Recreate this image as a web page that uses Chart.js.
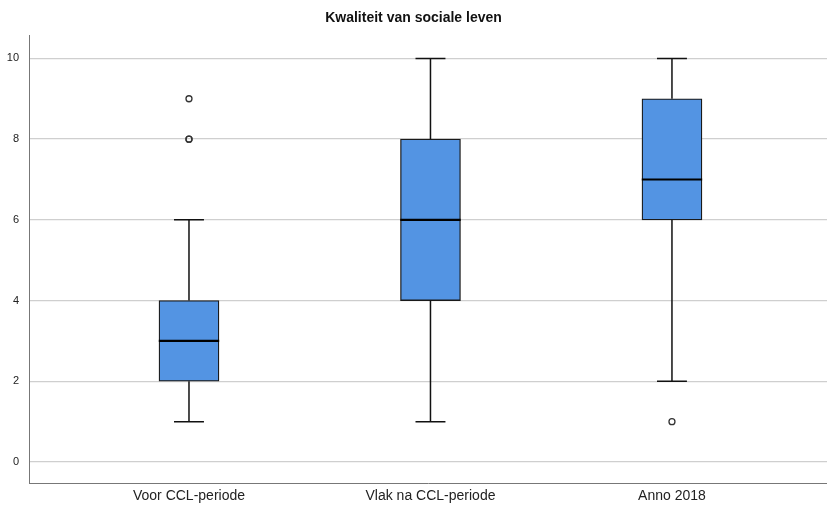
<!DOCTYPE html>
<html>
<head>
<meta charset="utf-8">
<script src="https://cdn.jsdelivr.net/npm/chart.js@4"></script>
<style>
html,body{margin:0;padding:0;background:#fff;}
#wrap{width:827px;height:509px;}
</style>
</head>
<body>
<div id="wrap"><canvas id="c" width="827" height="509"></canvas></div>
<script>
const categories = ['Voor CCL-periode', 'Vlak na CCL-periode', 'Anno 2018'];
const whiskerLow = [1, 1, 2];
const q1 = [2, 4, 6];
const medians = [3, 6, 7];
const q3 = [4, 8, 9];
const whiskerHigh = [6, 10, 10];
const outliers = [[9, 8, 8], [], [1]];
const yTicks = [0, 2, 4, 6, 8, 10];
const chartTitle = 'Kwaliteit van sociale leven';

const boxData = categories.map((c, i) => ({x: i, y: [q1[i], q3[i]]}));
const outlierData = [];
outliers.forEach((arr, i) => arr.forEach(v => outlierData.push({x: i, y: v})));

const BOX_HALF = 0.125, CAP_HALF = 0.062;

const fullWidthPlugin = {
  id: 'fullWidth',
  afterLayout(chart) {
    const ca = chart.chartArea, xs = chart.scales.x;
    ca.right = chart.width;
    ca.width = ca.right - ca.left;
    xs.right = chart.width;
    xs.width = xs.right - xs.left;
    xs.configure();
  }
};

const boxPlugin = {
  id: 'boxExtras',
  afterDatasetsDraw(chart) {
    const ctx = chart.ctx, xs = chart.scales.x, ys = chart.scales.y;
    ctx.save();
    categories.forEach((c, i) => {
      const cx = xs.getPixelForValue(i);
      const capL = xs.getPixelForValue(i - CAP_HALF), capR = xs.getPixelForValue(i + CAP_HALF);
      const bL = xs.getPixelForValue(i - BOX_HALF), bR = xs.getPixelForValue(i + BOX_HALF);
      ctx.strokeStyle = '#111';
      ctx.lineWidth = 1.5;
      ctx.beginPath();
      ctx.moveTo(cx, ys.getPixelForValue(q3[i])); ctx.lineTo(cx, ys.getPixelForValue(whiskerHigh[i]));
      ctx.moveTo(cx, ys.getPixelForValue(q1[i])); ctx.lineTo(cx, ys.getPixelForValue(whiskerLow[i]));
      ctx.moveTo(capL, ys.getPixelForValue(whiskerHigh[i])); ctx.lineTo(capR, ys.getPixelForValue(whiskerHigh[i]));
      ctx.moveTo(capL, ys.getPixelForValue(whiskerLow[i])); ctx.lineTo(capR, ys.getPixelForValue(whiskerLow[i]));
      ctx.stroke();
      ctx.lineWidth = 2.2;
      ctx.strokeStyle = '#000';
      ctx.beginPath();
      ctx.moveTo(bL, ys.getPixelForValue(medians[i])); ctx.lineTo(bR, ys.getPixelForValue(medians[i]));
      ctx.stroke();
    });
    ctx.restore();
  }
};

new Chart(document.getElementById('c'), {
  data: {
    datasets: [
      {
        type: 'bar',
        data: boxData,
        backgroundColor: '#5394e3',
        borderColor: '#1a1a1a',
        borderWidth: 1.3,
        borderSkipped: false,
        barThickness: 60,
        order: 2
      },
      {
        type: 'scatter',
        data: outlierData,
        pointStyle: 'circle',
        pointRadius: 3,
        pointBackgroundColor: 'rgba(255,255,255,0)',
        pointBorderColor: '#333',
        pointBorderWidth: 1.3,
        order: 1
      }
    ]
  },
  options: {
    responsive: false,
    animation: false,
    devicePixelRatio: 1,
    layout: {padding: 0},
    plugins: {
      legend: {display: false},
      tooltip: {enabled: false},
      title: {
        display: true,
        text: chartTitle,
        color: '#111',
        font: {family: 'Liberation Sans', size: 14, weight: 'bold'},
        padding: {top: 10, bottom: 8.2}
      }
    },
    scales: {
      x: {
        type: 'linear',
        min: -0.6625,
        max: 2.642,
        offset: false,
        afterFit(s) { s.height = 26; s.paddingLeft = 0; s.paddingRight = 0; },
        afterBuildTicks(s) { s.ticks = categories.map((c, i) => ({value: i})); },
        ticks: {
          includeBounds: false,
          autoSkip: false,
          maxRotation: 0,
          padding: 5,
          color: '#222',
          font: {family: 'Liberation Sans', size: 14},
          callback: (v) => categories[v]
        },
        grid: {display: false, drawTicks: false},
        border: {display: true, color: '#777', width: 1}
      },
      y: {
        type: 'linear',
        min: -0.52,
        max: 10.58,
        afterFit(s) { s.width = 29; s.paddingTop = 0; s.paddingBottom = 0; },
        afterBuildTicks(s) { s.ticks = yTicks.map(v => ({value: v})); },
        ticks: {
          includeBounds: false,
          padding: 10,
          color: '#222',
          font: {family: 'Liberation Sans', size: 11}
        },
        grid: {display: true, color: '#cfcfcf', lineWidth: 1.3, drawTicks: false},
        border: {display: true, color: '#777', width: 1}
      }
    }
  },
  plugins: [fullWidthPlugin, boxPlugin]
});
</script>
</body>
</html>
